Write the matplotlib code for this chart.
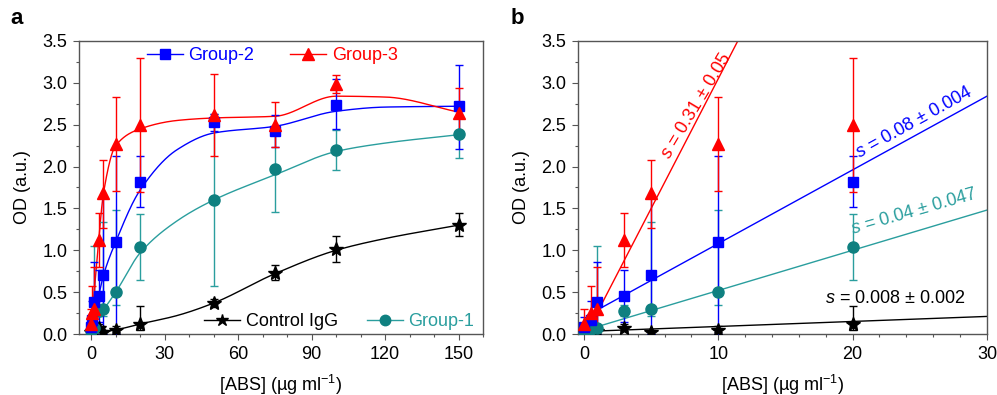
import numpy as np
import matplotlib
matplotlib.use('Agg')
import matplotlib.pyplot as plt
from matplotlib.lines import Line2D

plt.rcParams['font.family'] = ['Liberation Sans', 'DejaVu Sans']
plt.rcParams['mathtext.fontset'] = 'custom'
plt.rcParams['mathtext.rm'] = 'Liberation Sans'
plt.rcParams['mathtext.it'] = 'Liberation Sans:italic'

fs = 13
red = '#ff0000'
blue = '#0000ff'
teal = '#0f8080'
teal_line = '#2a9e9e'
frame = '#555555'

# concentrations [ABS] (ug/ml)
conc = np.array([0, 0.5, 1, 3, 5, 10, 20, 50, 75, 100, 150])

# Group-3 (red triangles)
g3 = np.array([0.12, 0.25, 0.30, 1.12, 1.68, 2.27, 2.50, 2.61, 2.50, 2.98, 2.64])
g3_up = np.array([0.30, 0.57, 0.80, 1.44, 2.08, 2.83, 3.30, 3.11, 2.77, 3.09, 2.94])
g3_lo = np.array([0.00, 0.05, 0.10, 0.80, 1.26, 1.71, 1.70, 2.12, 2.23, 2.88, 2.35])

# Group-2 (blue squares)
g2 = np.array([0.08, 0.17, 0.38, 0.45, 0.70, 1.10, 1.82, 2.53, 2.42, 2.73, 2.72])
g2_up = np.array([0.20, 0.40, 0.86, 0.76, 1.64, 2.12, 2.12, 2.63, 2.61, 3.04, 3.21])
g2_lo = np.array([0.00, 0.00, 0.00, 0.14, 0.00, 0.00, 1.52, 2.43, 2.23, 2.45, 2.21])

# Group-1 (teal circles)
g1 = np.array([0.04, 0.06, 0.07, 0.28, 0.30, 0.50, 1.04, 1.60, 1.97, 2.20, 2.39])
g1_up = np.array([0.10, 0.20, 1.05, 0.35, 1.34, 1.48, 1.43, 2.63, 2.48, 2.44, 2.68])
g1_lo = np.array([0.00, 0.00, 0.00, 0.21, 0.21, 0.35, 0.64, 0.57, 1.46, 1.96, 2.10])

# Control IgG (black stars)
ctl = np.array([0.02, 0.03, 0.04, 0.07, 0.02, 0.05, 0.12, 0.37, 0.73, 1.01, 1.30])
ctl_up = np.array([0.05, 0.06, 0.08, 0.12, 0.05, 0.09, 0.33, 0.42, 0.82, 1.17, 1.45])
ctl_lo = np.array([0.00, 0.00, 0.00, 0.03, 0.00, 0.02, 0.05, 0.32, 0.65, 0.86, 1.17])

# fitted curves of panel a
curve_x = np.array([0, 3, 5, 10, 20, 35, 50, 75, 100, 120, 150])
g3_curve = np.array([0.10, 1.10, 1.68, 2.25, 2.45, 2.55, 2.58, 2.60, 2.84, 2.83, 2.65])
g2_curve = np.array([0.08, 0.45, 0.70, 1.10, 1.72, 2.20, 2.40, 2.48, 2.66, 2.71, 2.72])
g1_curve = np.array([0.04, 0.25, 0.30, 0.50, 0.97, 1.35, 1.60, 1.90, 2.18, 2.28, 2.38])
ctl_curve = np.array([0.02, 0.03, 0.03, 0.05, 0.12, 0.22, 0.37, 0.72, 1.00, 1.14, 1.30])

# linear fits in panel b: slope, intercept, x range
fit_g3 = (0.31, -0.05, 0.3, 11.45)
fit_g2 = (0.088, 0.20, 0.2, 30)
fit_g1 = (0.048, 0.04, 0.0, 30)
fit_ctl = (0.006, 0.03, 0.0, 30)
fit_labels = [r'$s$ = 0.31 ± 0.05', r'$s$ = 0.08 ± 0.004',
               r'$s$ = 0.04 ± 0.047', r'$s$ = 0.008 ± 0.002']


def pchip(x, y, xn):
    h = np.diff(x)
    d = np.diff(y) / h
    m = np.zeros_like(y)
    m[0], m[-1] = d[0], d[-1]
    for k in range(1, len(x) - 1):
        if d[k - 1] * d[k] > 0:
            w1 = 2 * h[k] + h[k - 1]
            w2 = h[k] + 2 * h[k - 1]
            m[k] = (w1 + w2) / (w1 / d[k - 1] + w2 / d[k])
    i = np.clip(np.searchsorted(x, xn) - 1, 0, len(x) - 2)
    t = (xn - x[i]) / h[i]
    h00 = 2 * t**3 - 3 * t**2 + 1
    h10 = t**3 - 2 * t**2 + t
    h01 = -2 * t**3 + 3 * t**2
    h11 = t**3 - t**2
    return h00 * y[i] + h10 * h[i] * m[i] + h01 * y[i + 1] + h11 * h[i] * m[i + 1]


series = [
    (ctl, ctl_lo, ctl_up, ctl_curve, 'k', 'k', '*', 10),
    (g1, g1_lo, g1_up, g1_curve, teal, teal_line, 'o', 8),
    (g2, g2_lo, g2_up, g2_curve, blue, blue, 's', 7.5),
    (g3, g3_lo, g3_up, g3_curve, red, red, '^', 8.5),
]

fig = plt.figure(figsize=(9.97, 3.95), dpi=100)
axa = fig.add_axes([0.0792, 0.1544, 0.4053, 0.742])
axb = fig.add_axes([0.5797, 0.1544, 0.4102, 0.742])


def errs(y, lo, up):
    return [y - lo, up - y]


# panel a
xs = np.linspace(0, 150, 600)
for y, lo, up, cv, mc, lc, mk, ms in series:
    axa.plot(xs, pchip(curve_x.astype(float), cv, xs), color=lc, lw=1, zorder=2)
    axa.errorbar(conc, y, yerr=errs(y, lo, up), fmt=mk, color=mc, ecolor=lc,
                 ms=ms, elinewidth=1, capsize=3, capthick=1, zorder=3)

# panel b
sel = conc <= 20
fits = [fit_ctl, fit_g1, fit_g2, fit_g3]
for (y, lo, up, cv, mc, lc, mk, ms), (k, b0, x0, x1) in zip(series, fits):
    xf = np.array([x0, x1])
    axb.plot(xf, k * xf + b0, color=lc, lw=1, zorder=2)
    axb.errorbar(conc[sel], y[sel], yerr=errs(y[sel], lo[sel], up[sel]), fmt=mk,
                 color=mc, ecolor=lc, ms=ms, elinewidth=1, capsize=3,
                 capthick=1, zorder=3)

axb.text(8.4, 2.72, fit_labels[0], color=red, rotation=59, fontsize=fs,
         ha='center', va='center', rotation_mode='anchor')
axb.text(24.6, 2.53, fit_labels[1], color=blue, rotation=29, fontsize=fs,
         ha='center', va='center', rotation_mode='anchor')
axb.text(24.6, 1.46, fit_labels[2], color=teal_line, rotation=16, fontsize=fs,
         ha='center', va='center', rotation_mode='anchor')
axb.text(23.2, 0.43, fit_labels[3], color='k', fontsize=fs,
         ha='center', va='center')

# legends in panel a
h2 = Line2D([], [], color=blue, marker='s', ms=7, lw=1)
h3 = Line2D([], [], color=red, marker='^', ms=8, lw=1)
hc = Line2D([], [], color='k', marker='*', ms=9, lw=1)
h1 = Line2D([], [], color=teal_line, marker='o', mfc=teal, mec=teal, ms=7.5, lw=1)
leg_top = axa.legend([h2, h3], ['Group-2', 'Group-3'], ncol=2, loc='center left',
                     bbox_to_anchor=(0.168, 0.949), frameon=False, borderpad=0,
                     borderaxespad=0, handlelength=2.0, handletextpad=0.3,
                     columnspacing=2.0, fontsize=fs, labelcolor='linecolor',
                     numpoints=1)
axa.add_artist(leg_top)
axa.legend([hc, h1], ['Control IgG', 'Group-1'], ncol=2, loc='center left',
           bbox_to_anchor=(0.31, 0.042), frameon=False, borderpad=0,
           borderaxespad=0, handlelength=2.0, handletextpad=0.3,
           columnspacing=1.6, fontsize=fs, labelcolor='linecolor', numpoints=1)

for ax in (axa, axb):
    ax.set_ylim(0, 3.5)
    ax.set_yticks(np.arange(0, 3.51, 0.5))
    ax.set_yticks(np.arange(0, 3.51, 0.25), minor=True)
    ax.yaxis.set_major_formatter(matplotlib.ticker.FormatStrFormatter('%.1f'))
    ax.tick_params(which='both', direction='out', colors=frame,
                   labelcolor='k', labelsize=fs, width=0.8)
    ax.tick_params(which='major', length=4.5, pad=4)
    ax.tick_params(which='minor', length=2.5)
    for s in ax.spines.values():
        s.set_color(frame)
        s.set_linewidth(1)
    ax.set_xlabel(r'[ABS] (µg ml$^{-1}$)', fontsize=fs, labelpad=7)
    ax.set_ylabel('OD (a.u.)', fontsize=fs, labelpad=8)

axa.set_xlim(-5, 160)
axa.set_xticks(np.arange(0, 151, 30))
axa.set_xticks(np.arange(0, 161, 10), minor=True)
axb.set_xlim(-0.45, 30)
axb.set_xticks([0, 10, 20, 30])
axb.set_xticks(np.arange(0, 31, 2), minor=True)

fig.text(0.010, 0.953, 'a', fontsize=16, fontweight='bold', va='center')
fig.text(0.512, 0.953, 'b', fontsize=16, fontweight='bold', va='center')

fig.savefig('out.png', dpi=100)
